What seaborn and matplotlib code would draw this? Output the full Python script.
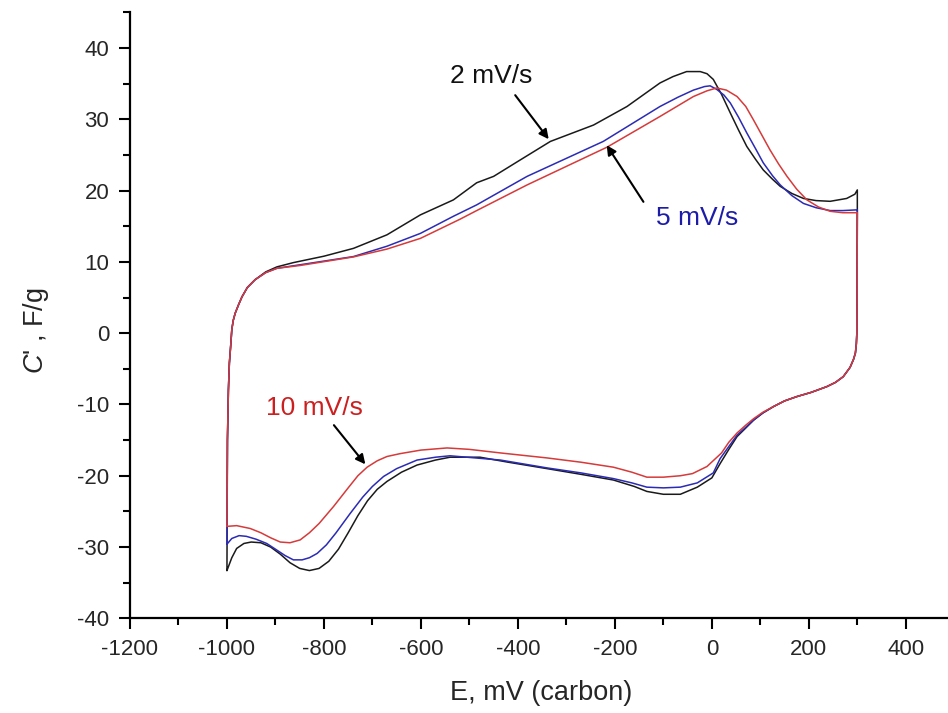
import matplotlib
matplotlib.use("Agg")
import matplotlib.pyplot as plt
import seaborn as sns
import pandas as pd
from matplotlib.ticker import MultipleLocator

sns.set_style("ticks")
plt.rcParams['font.family'] = ['Liberation Sans', 'DejaVu Sans']
plt.rcParams['mathtext.fontset'] = 'custom'
plt.rcParams['mathtext.it'] = 'Liberation Sans:italic'
plt.rcParams['mathtext.rm'] = 'Liberation Sans'
plt.rcParams['axes.unicode_minus'] = False

# ---- data (closed CV loops: anodic branch -1000 -> 300, then cathodic back to -1000) ----
# 2 mV/s (black)
E_2 = [-1000, -999, -997, -995, -992, -990, -987, -983, -976, -969, -958, -942, -920, -897, -863,
       -800, -739, -670, -601, -533, -485, -450, -400, -333, -244, -175, -140, -107, -80, -52,
       -24, -10, 3, 20, 38, 55, 72, 90, 106, 125, 141, 165, 189, 215, 244, 278, 295, 300,
       300, 299.5, 299, 298, 296, 292, 285, 271, 255, 237, 205, 175, 150, 127, 105, 86, 70, 52,
       35, 17, 0, -30, -65, -100, -134, -160, -203, -270, -340, -420, -478, -540, -570, -608,
       -640, -670, -690, -710, -730, -750, -770, -790, -810, -830, -850, -870, -890, -910, -930,
       -950, -965, -980, -990, -1000]
C_2 = [-33.3, -15, -8, -4.2, -1.5, 0.5, 1.8, 2.8, 4.0, 5.1, 6.4, 7.5, 8.6, 9.3, 9.9,
       10.8, 11.9, 13.8, 16.6, 18.7, 21.1, 22.0, 24.1, 26.9, 29.2, 31.8, 33.5, 35.1, 36.0, 36.7,
       36.7, 36.4, 35.6, 33.5, 30.9, 28.5, 26.2, 24.4, 22.9, 21.6, 20.6, 19.6, 18.9, 18.6, 18.5, 18.9, 19.5, 20.1,
       17.0, 5.0, 0.0, -1.5, -2.8, -3.7, -4.8, -6.1, -6.9, -7.5, -8.3, -8.9, -9.5, -10.3, -11.2, -12.2, -13.3, -14.5,
       -16.3, -18.3, -20.3, -21.6, -22.6, -22.6, -22.2, -21.5, -20.6, -19.8, -19.0, -18.1, -17.4, -17.4, -17.8, -18.5,
       -19.5, -20.8, -21.9, -23.5, -25.6, -28.0, -30.3, -32.0, -33.0, -33.3, -33.0, -32.2, -31.0, -30.0, -29.4,
       -29.3, -29.5, -30.2, -31.5, -33.3]

# 5 mV/s (blue)
E_5 = [-1000, -999, -997, -995, -992, -990, -987, -983, -976, -969, -958, -942, -920, -897, -849,
       -739, -670, -601, -533, -485, -381, -224, -107, -70, -38, -15, -3.5, 10, 25, 38, 55, 72,
       90, 106, 125, 141, 165, 189, 215, 244, 270, 299, 300,
       300, 299.5, 299, 298, 296, 292, 285, 271, 255, 237, 205, 175, 150, 127, 105, 86, 70, 52,
       35, 17, 3, -30, -65, -100, -134, -165, -203, -270, -340, -436, -540, -570, -608, -650,
       -677, -700, -720, -746, -775, -795, -814, -830, -845, -863, -880, -900, -918, -940, -960,
       -975, -990, -1000]
C_5 = [-29.6, -15, -8, -4.2, -1.5, 0.5, 1.8, 2.8, 4.0, 5.1, 6.4, 7.5, 8.5, 9.1, 9.6,
       10.75, 12.2, 14.0, 16.4, 18.0, 22.0, 26.9, 31.8, 33.1, 34.1, 34.6, 34.7, 34.2, 33.4, 32.3, 30.3, 28.1,
       25.9, 23.9, 22.1, 20.8, 19.3, 18.2, 17.6, 17.2, 17.2, 17.3, 17.3,
       17.3, 5.0, 0.0, -1.5, -2.8, -3.7, -4.8, -6.1, -6.9, -7.5, -8.3, -8.9, -9.5, -10.3, -11.2, -12.2, -13.2, -14.3,
       -15.9, -17.6, -19.6, -21.0, -21.6, -21.7, -21.6, -21.0, -20.4, -19.6, -18.9, -17.8, -17.2, -17.4, -17.8, -19.0,
       -20.1, -21.5, -23.0, -25.3, -28.0, -29.7, -30.9, -31.5, -31.8, -31.8, -31.2, -30.3, -29.5, -28.9, -28.5,
       -28.4, -28.8, -29.6]

# 10 mV/s (red)
E_10 = [-1000, -999, -997, -995, -992, -990, -987, -983, -976, -969, -958, -942, -920, -897, -849,
        -739, -670, -601, -519, -485, -381, -216, -107, -70, -38, -10, 10, 30, 52, 70, 86, 103,
        120, 138, 155, 175, 196, 220, 244, 270, 299, 300,
        300, 299.5, 299, 298, 296, 292, 285, 271, 255, 237, 205, 175, 150, 127, 105, 86, 70, 52,
        35, 20, -10, -40, -65, -100, -134, -165, -203, -270, -340, -436, -500, -546, -600, -643,
        -670, -690, -711, -730, -750, -780, -810, -830, -849, -870, -890, -910, -930, -952, -980, -1000]
C_10 = [-27.1, -15, -8, -4.2, -1.5, 0.5, 1.8, 2.8, 4.0, 5.1, 6.4, 7.5, 8.5, 9.1, 9.5,
        10.7, 11.8, 13.3, 16.0, 17.2, 20.8, 26.1, 30.4, 31.9, 33.2, 34.0, 34.4, 34.1, 33.2, 31.8, 29.9, 27.8,
        25.7, 23.7, 22.0, 20.2, 18.7, 17.7, 17.1, 16.9, 16.9, 16.9,
        16.9, 5.0, 0.0, -1.5, -2.8, -3.7, -4.8, -6.1, -6.9, -7.5, -8.3, -8.9, -9.5, -10.3, -11.1, -12.0, -12.9, -14.0,
        -15.3, -16.8, -18.7, -19.7, -20.0, -20.2, -20.2, -19.5, -18.8, -18.1, -17.5, -16.8, -16.3, -16.1, -16.4, -16.9,
        -17.3, -17.9, -18.8, -20.0, -21.7, -24.3, -26.7, -28.0, -29.0, -29.4, -29.3, -28.7, -28.0, -27.4, -27.0, -27.1]

rates = ["2 mV/s", "5 mV/s", "10 mV/s"]
colors = ["#1a1a1a", "#2b2bb5", "#d63a3a"]
text_colors = ["#111111", "#1c1ca8", "#cc2020"]

frames = []
for r, e, c in zip(rates, [E_2, E_5, E_10], [C_2, C_5, C_10]):
    frames.append(pd.DataFrame({"E": e, "C": c, "rate": r}))
df = pd.concat(frames, ignore_index=True)

fig = plt.figure(figsize=(9.48, 7.13), dpi=100)
ax = fig.add_axes([0.1371, 0.1328, 1.0 - 0.1371, 0.9836 - 0.1328])

sns.lineplot(data=df, x="E", y="C", hue="rate", hue_order=rates,
             palette=dict(zip(rates, colors)), sort=False, estimator=None,
             units="rate", lw=1.1, legend=False, ax=ax)

ax.set_xlim(-1200, 487)
ax.set_ylim(-40, 45.1)
ax.xaxis.set_major_locator(MultipleLocator(200))
ax.xaxis.set_minor_locator(MultipleLocator(100))
ax.yaxis.set_major_locator(MultipleLocator(10))
ax.yaxis.set_minor_locator(MultipleLocator(5))
ax.tick_params(which="major", direction="out", length=8, width=1.5, labelsize=16, color="black")
ax.tick_params(which="minor", direction="out", length=5, width=1.5, color="black")
ax.tick_params(axis="x", which="major", pad=7.0)
ax.tick_params(axis="y", which="major", pad=7.0)
for s in ["top", "right"]:
    ax.spines[s].set_visible(False)
for s in ["left", "bottom"]:
    ax.spines[s].set_linewidth(1.6)
    ax.spines[s].set_color("black")

ax.set_xlabel("E, mV (carbon)", fontsize=19.5, va="top")
ax.set_ylabel(r"$C$' , F/g", fontsize=19.5)
ax.xaxis.set_label_coords(0.503, -0.102)
ax.yaxis.set_label_coords(-0.097, 0.475)

# annotations
ax.text(-455, 36.1, "2 mV/s", fontsize=19, color=text_colors[0], ha="center", va="center")
ax.annotate("", xy=(-333, 26.9), xytext=(-409, 33.7),
            arrowprops=dict(arrowstyle="-|>", color="black", lw=1.5, mutation_scale=14))
ax.text(-30, 16.2, "5 mV/s", fontsize=19, color=text_colors[1], ha="center", va="center")
ax.annotate("", xy=(-220, 26.7), xytext=(-138, 18.1),
            arrowprops=dict(arrowstyle="-|>", color="black", lw=1.5, mutation_scale=14))
ax.text(-820, -10.5, "10 mV/s", fontsize=19, color=text_colors[2], ha="center", va="center")
ax.annotate("", xy=(-711, -18.7), xytext=(-783, -12.6),
            arrowprops=dict(arrowstyle="-|>", color="black", lw=1.5, mutation_scale=14))

fig.savefig("out.png", dpi=100)
